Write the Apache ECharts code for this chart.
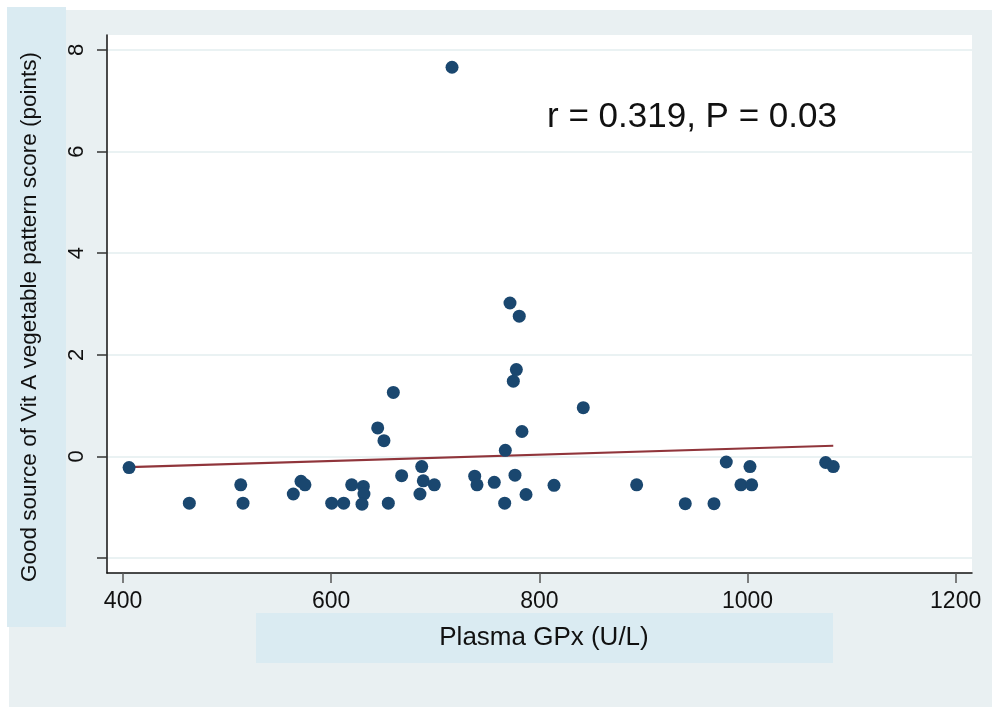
<!DOCTYPE html>
<html>
<head>
<meta charset="utf-8">
<script src="https://cdn.jsdelivr.net/npm/echarts@6/dist/echarts.min.js"></script>
<style>
  html, body { margin: 0; padding: 0; background: #fff; }
  #main { width: 992px; height: 707px; }
</style>
</head>
<body>
<div id="main"></div>
<script>
// Plasma GPx (U/L) vs vegetable pattern score
var gpx = [405.8, 463.7, 513.1, 515.3, 563.6, 571.0, 574.8, 600.5, 612.0, 619.7,
           630.9, 631.5, 629.6, 644.7, 650.7, 654.9, 659.7, 667.7, 685.3, 687.0,
           688.5, 699.1, 716.1, 737.9, 740.1, 756.7, 766.7, 767.3, 771.8, 775.0,
           777.9, 776.6, 780.7, 783.3, 787.2, 814.1, 842.2, 893.5, 940.2, 967.8,
           979.6, 993.7, 1002.4, 1004.0, 1075.1, 1082.4];
var score = [-0.22, -0.92, -0.56, -0.92, -0.74, -0.49, -0.56, -0.92, -0.92, -0.56,
             -0.59, -0.74, -0.94, 0.56, 0.31, -0.92, 1.26, -0.38, -0.74, -0.20,
             -0.48, -0.56, 7.66, -0.39, -0.56, -0.51, -0.92, 0.12, 3.02, 1.48,
             1.71, -0.37, 2.76, 0.49, -0.75, -0.57, 0.96, -0.56, -0.93, -0.93,
             -0.11, -0.56, -0.20, -0.56, -0.12, -0.20];
var fitX = [405.8, 1082.4];
var fitY = [-0.21, 0.21];
var xTicks = [400, 600, 800, 1000, 1200];
var yTicks = [-2, 0, 2, 4, 6, 8];
var yLabels = [0, 2, 4, 6, 8];

var font = 'Liberation Sans, Arial, sans-serif';

var points = [];
for (var i = 0; i < gpx.length; i++) points.push([gpx[i], score[i]]);
var fit = [];
for (var j = 0; j < fitX.length; j++) fit.push([fitX[j], fitY[j]]);

var myChart = echarts.init(document.getElementById('main'));
var option = {
    backgroundColor: '#fff',
    animation: false,
    grid: {
        left: 107, top: 35, right: 20, bottom: 134,
        show: true, backgroundColor: '#fff', borderWidth: 0
    },
    graphic: [
        { type: 'rect', z: -10, shape: { x: 9, y: 10, width: 983, height: 697 }, style: { fill: '#e9f0f2' } },
        { type: 'rect', z: -9, shape: { x: 7, y: 7, width: 59, height: 620 }, style: { fill: '#daebf2' } },
        { type: 'rect', z: -9, shape: { x: 256, y: 613, width: 577, height: 50 }, style: { fill: '#daebf2' } },
        { type: 'text', x: 30, y: 317, rotation: Math.PI / 2,
          style: { text: 'Good source of Vit A vegetable pattern score (points)', font: '22.5px ' + font,
                   fill: '#111', textAlign: 'center', textVerticalAlign: 'middle' } },
        { type: 'text', x: 544, y: 638,
          style: { text: 'Plasma GPx (U/L)', font: '26px ' + font,
                   fill: '#111', textAlign: 'center', textVerticalAlign: 'middle' } },
        { type: 'text', x: 547, y: 117,
          style: { text: 'r = 0.319, P = 0.03', font: '35px ' + font,
                   fill: '#111', textAlign: 'left', textVerticalAlign: 'middle' } }
    ],
    xAxis: {
        type: 'value',
        min: 384.6, max: 1215.7,
        axisLine: { show: true, onZero: false, lineStyle: { color: '#111', width: 1.5 } },
        axisTick: { show: true, inside: false, length: 10, customValues: xTicks, lineStyle: { color: '#555', width: 1.5 } },
        axisLabel: { customValues: xTicks, margin: 17, fontSize: 23, fontFamily: font, color: '#111',
                     formatter: function (v) { return String(v); } },
        splitLine: { show: false }
    },
    yAxis: {
        type: 'value',
        min: -2.295, max: 8.295,
        axisLine: { show: true, onZero: false, lineStyle: { color: '#111', width: 1.5 } },
        axisTick: { show: true, inside: false, length: 10, customValues: yTicks, lineStyle: { color: '#333', width: 1.5 } },
        axisLabel: { customValues: yLabels, rotate: 90, margin: 19, fontSize: 22, fontFamily: font, color: '#111',
                     formatter: function (v) { return String(v); } },
        splitLine: { show: true, lineStyle: { color: '#eaf2f3', width: 2 } }
    },
    series: [
        {
            name: 'fit',
            type: 'line',
            data: fit,
            symbol: 'none',
            lineStyle: { color: '#90353b', width: 2.2 },
            z: 3
        },
        {
            name: 'score',
            type: 'scatter',
            data: points,
            symbolSize: 13,
            itemStyle: { color: '#1a476f', opacity: 1 },
            z: 4
        }
    ]
};
myChart.setOption(option);
</script>
</body>
</html>
